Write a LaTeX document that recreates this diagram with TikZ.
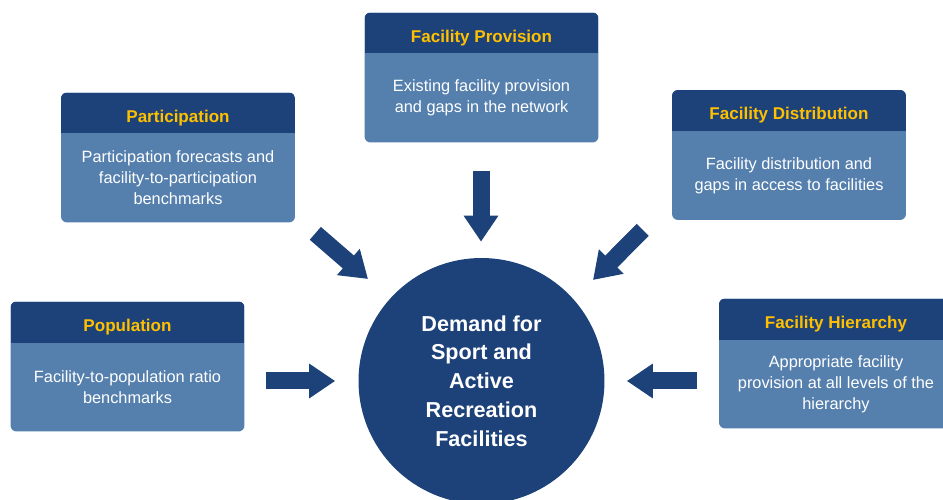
\documentclass[tikz,border=0pt]{standalone}
\usepackage{fontspec}
\setmainfont{Liberation Sans}
\usetikzlibrary{arrows.meta}

\definecolor{navy}{RGB}{29,65,121}
\definecolor{boxblue}{RGB}{85,128,174}
\definecolor{gold}{RGB}{255,192,0}

\begin{document}
\begin{tikzpicture}[x=0.02cm,y=0.02cm]

\tikzset{%
every box/.style={
rectangle,
fill=boxblue,
rounded corners=0.12cm,
minimum width=4.68cm,
minimum height=2.6cm,
path picture={\fill[navy,sharp corners] (path picture bounding box.north west) rectangle ([yshift=-0.82cm]path picture bounding box.north east);}
},
box head/.style={
anchor=base,
text=gold,
font=\fontsize{9.7}{11.9}\selectfont\bfseries
},
box text/.style={
align=center,
text=white,
font=\fontsize{9.3}{11.9}\selectfont
},
demand circle/.style={
circle,
fill=navy,
minimum size=4.92cm,
inner sep=0pt,
align=center,
text=white,
font=\fontsize{12.3}{16.4}\selectfont\bfseries
},
flow/.style={
draw=navy,
line width=0.34cm,
-{Triangle[width=0.66cm,length=0.52cm]}
},
}

\useasboundingbox (0,0) rectangle (943,500);
\clip (0,0) rectangle (943,500);

% Input boxes: heading strip on top, description below
\foreach \n/\x/\y/\h/\t in {
part/178/342.5/Participation/{Participation forecasts and\\facility-to-participation\\benchmarks},
prov/481.5/422.5/Facility Provision/{Existing facility provision\\and gaps in the network},
dist/789/345/Facility Distribution/{Facility distribution and\\gaps in access to facilities},
pop/127.5/133.5/Population/{Facility-to-population ratio\\benchmarks},
hier/836/136.5/Facility Hierarchy/{Appropriate facility\\provision at all levels of the\\hierarchy}}
{
\node [every box] (\n) at (\x,\y) {};
\node [box head] (\n-head) at ([yshift=-0.6cm]\n.north) {\h};
\node [box text] (\n-text) at ([yshift=-0.41cm]\n.center) {\t};
}

% Central circle
\node [demand circle] (demand) at (481.5,119) {Demand for\\Sport and\\Active\\Recreation\\Facilities};

% Arrows into the circle
\draw [flow] ([shift={(-0.5,-28)}]prov.south) -- ([shift={(-0.5,16)}]demand.north);
\draw [flow] ([shift={(20,-10.5)}]part.south east) -- ([shift={(-113.5,102)}]demand.center);
\draw [flow] ([shift={(-29,-9.5)}]dist.south west) -- ([shift={(111.5,101)}]demand.center);
\draw [flow] ([shift={(21,-14.5)}]pop.east) -- ([xshift=-0.46cm]demand.west);
\draw [flow] ([shift={(-22,-17.5)}]hier.west) -- ([xshift=0.44cm]demand.east);

\end{tikzpicture}
\end{document}
